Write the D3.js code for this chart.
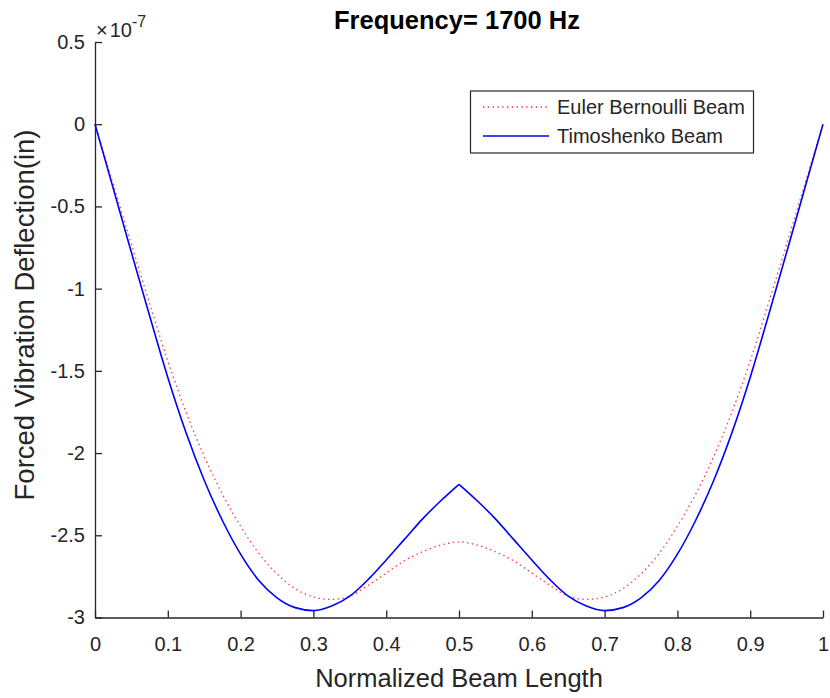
<!DOCTYPE html>
<html>
<head>
<meta charset="utf-8">
<script src="https://cdn.jsdelivr.net/npm/d3@7"></script>
<style>
  html, body { margin: 0; padding: 0; background: #ffffff; }
  svg { display: block; }
  text { font-family: "Liberation Sans", Arial, Helvetica, sans-serif; }
</style>
</head>
<body>
<svg id="chart" width="830" height="698"></svg>
<script>
// ---- data (deflection in units of 1e-7 in) ----
const xPositions = [0, 0.025, 0.05, 0.075, 0.1, 0.125, 0.15, 0.175, 0.2, 0.225, 0.25, 0.275, 0.3, 0.325, 0.35, 0.375, 0.4, 0.425, 0.45, 0.475, 0.5,
  0.525, 0.55, 0.575, 0.6, 0.625, 0.65, 0.675, 0.7, 0.725, 0.75, 0.775, 0.8, 0.825, 0.85, 0.875, 0.9, 0.925, 0.95, 0.975, 1];
const eulerBernoulli = [0, -0.365, -0.73, -1.09, -1.44, -1.75, -2.02, -2.25, -2.445, -2.61, -2.735, -2.825, -2.875, -2.89, -2.87, -2.805, -2.73, -2.655, -2.6, -2.56, -2.54,
  -2.56, -2.6, -2.655, -2.73, -2.805, -2.87, -2.89, -2.875, -2.825, -2.735, -2.61, -2.445, -2.25, -2.02, -1.75, -1.44, -1.09, -0.73, -0.365, 0];
const timoshenko = [0, -0.39, -0.78, -1.165, -1.54, -1.875, -2.165, -2.41, -2.615, -2.775, -2.88, -2.94, -2.958, -2.93, -2.87, -2.77, -2.65, -2.525, -2.4, -2.29, -2.19,
  -2.29, -2.4, -2.525, -2.65, -2.77, -2.87, -2.93, -2.958, -2.94, -2.88, -2.775, -2.615, -2.41, -2.165, -1.875, -1.54, -1.165, -0.78, -0.39, 0];
const seriesNames = ["Euler Bernoulli Beam", "Timoshenko Beam"];
const xTicks = [0, 0.1, 0.2, 0.3, 0.4, 0.5, 0.6, 0.7, 0.8, 0.9, 1];
const xTickLabels = ["0", "0.1", "0.2", "0.3", "0.4", "0.5", "0.6", "0.7", "0.8", "0.9", "1"];
const yTicks = [0.5, 0, -0.5, -1, -1.5, -2, -2.5, -3];
const yTickLabels = ["0.5", "0", "-0.5", "-1", "-1.5", "-2", "-2.5", "-3"];
const titleText = "Frequency= 1700 Hz";
const xLabelText = "Normalized Beam Length";
const yLabelText = "Forced Vibration Deflection(in)";

// ---- layout ----
const svg = d3.select("#chart");
const plotLeft = 95, plotRight = 823, plotTop = 42, plotBottom = 617.5;
const axisColor = "#262626";
const fontFam = "Liberation Sans, Arial, sans-serif";

const x = d3.scaleLinear().domain([0, 1]).range([plotLeft, plotRight]);
const y = d3.scaleLinear().domain([-3, 0.5]).range([plotBottom, plotTop]);

// x axis (ticks inward)
const xAxis = d3.axisBottom(x).tickValues(xTicks)
  .tickFormat((d, i) => xTickLabels[i]).tickSizeInner(-7).tickSizeOuter(0).tickPadding(19);
const gx = svg.append("g").attr("transform", `translate(0,${plotBottom})`).call(xAxis);
gx.select(".domain").attr("stroke", axisColor).attr("stroke-width", 1.3);
gx.selectAll(".tick line").attr("stroke", axisColor).attr("stroke-width", 1.3);
gx.selectAll(".tick text").attr("fill", axisColor).attr("font-size", 20).attr("font-family", fontFam);

// y axis (ticks inward)
const yAxis = d3.axisLeft(y).tickValues(yTicks)
  .tickFormat((d, i) => yTickLabels[i]).tickSizeInner(-7).tickSizeOuter(0).tickPadding(10);
const gy = svg.append("g").attr("transform", `translate(${plotLeft},0)`).call(yAxis);
gy.select(".domain").attr("stroke", axisColor).attr("stroke-width", 1.3);
gy.selectAll(".tick line").attr("stroke", axisColor).attr("stroke-width", 1.3);
gy.selectAll(".tick text").attr("fill", axisColor).attr("font-size", 20).attr("font-family", fontFam);

// exponent label
const expo = svg.append("text").attr("x", plotLeft + 1).attr("y", 37)
  .attr("fill", axisColor).attr("font-size", 20);
expo.append("tspan").text("\u00d7");
expo.append("tspan").attr("dx", 2).text("10");
expo.append("tspan").attr("dy", -10).attr("font-size", 16).text("-7");

// curves
const pts = (vals) => xPositions.map((xv, i) => [xv, vals[i]]);
const line = d3.line().x(d => x(d[0])).y(d => y(d[1])).curve(d3.curveMonotoneX);

svg.append("path").datum(pts(eulerBernoulli)).attr("d", line)
  .attr("fill", "none").attr("stroke", "#ff0000").attr("stroke-width", 1.3)
  .attr("stroke-dasharray", "1.4,3.4").attr("opacity", 0.8);

// Timoshenko curve has a cusp at mid-span: draw as two smooth halves
const tData = pts(timoshenko);
const mid = xPositions.indexOf(0.5);
[tData.slice(0, mid + 1), tData.slice(mid)].forEach(seg => {
  svg.append("path").datum(seg).attr("d", line)
    .attr("fill", "none").attr("stroke", "#0000ff").attr("stroke-width", 1.6);
});

// title
svg.append("text").attr("x", 457).attr("y", 29).attr("text-anchor", "middle")
  .attr("font-weight", "bold").attr("font-size", 25.5).attr("fill", "#000").text(titleText);

// axis labels
svg.append("text").attr("x", (plotLeft + plotRight) / 2).attr("y", 687).attr("text-anchor", "middle")
  .attr("font-size", 25.5).attr("fill", axisColor).text(xLabelText);
svg.append("text").attr("transform", `translate(34,315) rotate(-90)`)
  .attr("text-anchor", "middle").attr("font-size", 27.5).attr("fill", axisColor).text(yLabelText);

// legend
const lg = svg.append("g");
lg.append("rect").attr("x", 470.5).attr("y", 91).attr("width", 283).attr("height", 62)
  .attr("fill", "#fff").attr("stroke", axisColor).attr("stroke-width", 1.2);
const legendItems = [
  { name: seriesNames[0], color: "#ff0000", dash: "1.4,3.4", width: 1.3, opacity: 0.8, yy: 107 },
  { name: seriesNames[1], color: "#0000ff", dash: null, width: 1.6, opacity: 1, yy: 136 }
];
legendItems.forEach(it => {
  lg.append("line").attr("x1", 483).attr("x2", 549).attr("y1", it.yy).attr("y2", it.yy)
    .attr("stroke", it.color).attr("stroke-width", it.width)
    .attr("stroke-dasharray", it.dash).attr("opacity", it.opacity);
  lg.append("text").attr("x", 557).attr("y", it.yy).attr("dy", "0.35em")
    .attr("font-size", 20).attr("fill", axisColor).text(it.name);
});
</script>
</body>
</html>
